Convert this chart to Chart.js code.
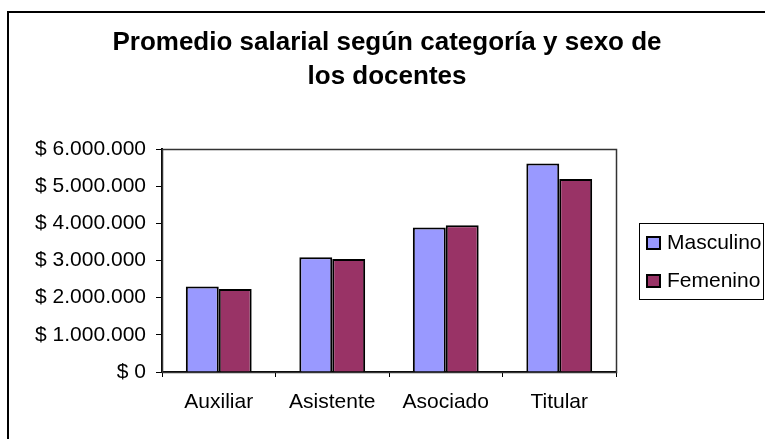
<!DOCTYPE html>
<html>
<head>
<meta charset="utf-8">
<script src="https://cdn.jsdelivr.net/npm/chart.js@4"></script>
<style>
  html, body { margin: 0; padding: 0; background: #fff; overflow: hidden; }
  #wrap { position: relative; width: 765px; height: 439px; overflow: hidden; }
  #frame { position: absolute; left: 7px; top: 11px; width: 900px; height: 600px; border: 2px solid #000; }
  canvas { position: absolute; left: 0; top: 0; }
</style>
</head>
<body>
<div id="wrap">
  <div id="frame"></div>
  <canvas id="chart" width="765" height="439"></canvas>
</div>
<script>
const categories = ['Auxiliar', 'Asistente', 'Asociado', 'Titular'];
const seriesNames = ['Masculino', 'Femenino'];
const masculino = [2300000, 3090000, 3890000, 5610000];
const femenino = [2230000, 3040000, 3950000, 5190000];
const titleLines = ['Promedio salarial según categoría y sexo de', 'los docentes'];
const seriesColors = ['#9999FF', '#993366'];

const FONT = '"Liberation Sans", Arial, sans-serif';

// formats 6000000 -> "$ 6.000.000"
function money(v) {
  return '$ ' + String(Math.round(v)).replace(/\B(?=(\d{3})+(?!\d))/g, '.');
}

// dark box around the plot area, like the spreadsheet one
const plotFrame = {
  id: 'plotFrame',
  beforeDatasetsDraw(chart) {
    const a = chart.chartArea;
    const ctx = chart.ctx;
    ctx.save();
    ctx.strokeStyle = '#333';
    ctx.lineWidth = 1.5;
    ctx.strokeRect(a.left + 0.5, a.top + 0.5, a.right - a.left, a.bottom - a.top);
    ctx.restore();
  }
};

// two-line title, centered on the outer frame rather than the canvas
const bigTitle = {
  id: 'bigTitle',
  afterDraw(chart) {
    const ctx = chart.ctx;
    ctx.save();
    ctx.fillStyle = '#000';
    ctx.font = 'bold 26px ' + FONT;
    ctx.textAlign = 'center';
    ctx.textBaseline = 'alphabetic';
    titleLines.forEach((line, i) => ctx.fillText(line, 387, 50 + i * 34));
    ctx.restore();
  }
};

// boxed legend on the right
const boxLegend = {
  id: 'boxLegend',
  afterDraw(chart) {
    const ctx = chart.ctx;
    ctx.save();
    ctx.strokeStyle = '#000';
    ctx.lineWidth = 1;
    ctx.strokeRect(639.5, 223.5, 124, 76);
    ctx.font = '21px ' + FONT;
    ctx.textBaseline = 'middle';
    ctx.textAlign = 'left';
    chart.data.datasets.forEach((ds, i) => {
      const y = 243 + i * 38;
      ctx.fillStyle = ds.backgroundColor;
      ctx.fillRect(647, y - 6, 13, 12);
      ctx.lineWidth = 2;
      ctx.strokeRect(647, y - 6, 13, 12);
      ctx.fillStyle = '#000';
      ctx.fillText(ds.label, 667, y);
    });
    ctx.restore();
  }
};

const ctx = document.getElementById('chart').getContext('2d');
new Chart(ctx, {
  type: 'bar',
  data: {
    labels: categories,
    datasets: [
      { label: seriesNames[0], data: masculino, backgroundColor: seriesColors[0], borderColor: '#000', borderWidth: 2 },
      { label: seriesNames[1], data: femenino, backgroundColor: seriesColors[1], borderColor: '#000', borderWidth: 2 }
    ]
  },
  options: {
    responsive: false,
    animation: false,
    devicePixelRatio: 1,
    layout: { padding: { top: 149, left: 20, right: 149, bottom: 22 } },
    datasets: { bar: { categoryPercentage: 0.58, barPercentage: 1.0 } },
    plugins: {
      legend: { display: false },
      title: { display: false },
      tooltip: { enabled: false }
    },
    scales: {
      x: {
        afterFit(scale) { scale.height = 45; },
        grid: { offset: true, drawOnChartArea: false, tickLength: 5, color: '#000', lineWidth: 1 },
        border: { display: true, color: '#000', width: 2 },
        ticks: { color: '#000', padding: 13, font: { family: FONT, size: 21 } }
      },
      y: {
        min: 0,
        max: 6000000,
        afterFit(scale) { scale.width = 142; },
        grid: { drawOnChartArea: false, tickLength: 6, color: '#000', lineWidth: 1 },
        border: { display: true, color: '#000', width: 2 },
        ticks: {
          stepSize: 1000000,
          color: '#000',
          padding: 10,
          font: { family: FONT, size: 21 },
          callback: (v) => money(v)
        }
      }
    }
  },
  plugins: [plotFrame, bigTitle, boxLegend]
});
</script>
</body>
</html>
